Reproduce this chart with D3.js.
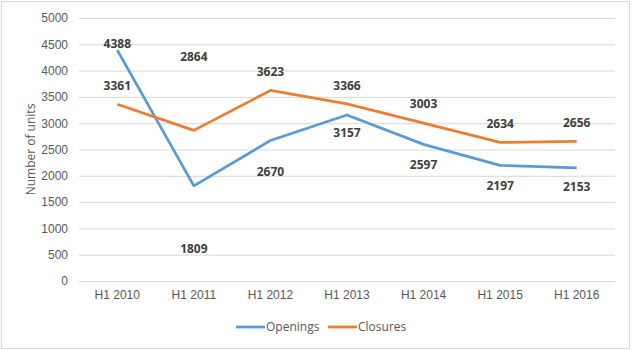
<!DOCTYPE html>
<html>
<head>
<meta charset="utf-8">
<script src="https://cdn.jsdelivr.net/npm/d3@7"></script>
<style>
  body { margin: 0; background: #fff; }
  svg { font-family: "Open Sans", sans-serif; }
</style>
</head>
<body>
<div id="chart"></div>
<script>
const periods = ["H1 2010", "H1 2011", "H1 2012", "H1 2013", "H1 2014", "H1 2015", "H1 2016"];
const openings = [4388, 1809, 2670, 3157, 2597, 2197, 2153];
const closures = [3361, 2864, 3623, 3366, 3003, 2634, 2656];
const yTicks = [0, 500, 1000, 1500, 2000, 2500, 3000, 3500, 4000, 4500, 5000];

// label offsets (px from point), as placed in the original
const openingsDy = [-6, 63, 31, 18, 20, 20, 19];
const closuresDy = [-18, -74, -19, -18, -19, -19, -18];

const W = 632, H = 351;
const margin = {top: 18, right: 17, bottom: 70, left: 79};
const width = W - margin.left - margin.right,
      height = H - margin.top - margin.bottom;

const svg = d3.select("#chart").append("svg")
  .attr("width", W).attr("height", H);

svg.append("rect")
  .attr("x", 1.5).attr("y", 1.5)
  .attr("width", W - 4).attr("height", H - 4)
  .attr("fill", "#fff").attr("stroke", "#d9d9d9");

const g = svg.append("g")
  .attr("transform", `translate(${margin.left},${margin.top})`);

const x = d3.scaleBand().domain(periods).range([0, width]);
const y = d3.scaleLinear().domain([0, 5000]).range([height, 0]);

// gridlines
g.append("g").selectAll("line")
  .data(yTicks)
  .join("line")
  .attr("x1", 0).attr("x2", width)
  .attr("y1", d => y(d) + 0.5).attr("y2", d => y(d) + 0.5)
  .attr("stroke", "#d9d9d9");

// y axis labels
const yAxis = g.append("g")
  .attr("transform", "translate(-4,0)")
  .call(d3.axisLeft(y).tickValues(yTicks).tickFormat(d3.format("d")).tickSize(0).tickPadding(7));
yAxis.select(".domain").remove();
yAxis.selectAll("text").attr("fill", "#595959").style("font-size", "12px");

// x axis labels
const xAxis = g.append("g")
  .attr("transform", `translate(0,${height})`)
  .call(d3.axisBottom(x).tickSize(0).tickPadding(9));
xAxis.select(".domain").remove();
xAxis.selectAll("text").attr("fill", "#595959").style("font-size", "12px");

// y title
svg.append("text")
  .attr("transform", `translate(35,${margin.top + height / 2}) rotate(-90)`)
  .attr("text-anchor", "middle")
  .attr("fill", "#595959")
  .style("font-size", "12px")
  .text("Number of units");

const cx = d => x(d) + x.bandwidth() / 2;
const line = d3.line().x((d, i) => cx(periods[i])).y(d => y(d));

const series = [
  {name: "Openings", values: openings, dy: openingsDy, color: "#5b9bd5"},
  {name: "Closures", values: closures, dy: closuresDy, color: "#ed7d31"}
];

series.forEach(s => {
  g.append("path")
    .datum(s.values)
    .attr("fill", "none")
    .attr("stroke", s.color)
    .attr("stroke-width", 2.75)
    .attr("stroke-linejoin", "round")
    .attr("d", line);
});

series.forEach(s => {
  g.append("g").selectAll("text")
    .data(s.values)
    .join("text")
    .attr("x", (d, i) => cx(periods[i]))
    .attr("y", (d, i) => y(d) + s.dy[i])
    .attr("dy", "0.35em")
    .attr("text-anchor", "middle")
    .attr("fill", "#404040")
    .style("font-size", "12px")
    .style("font-weight", "bold")
    .text(d => d);
});

// legend
const legend = svg.append("g").attr("transform", "translate(236,327)");
const items = legend.selectAll("g")
  .data(series)
  .join("g")
  .attr("transform", (d, i) => `translate(${i * 92},0)`);
items.append("line")
  .attr("x1", 0).attr("x2", 29)
  .attr("stroke", d => d.color)
  .attr("stroke-width", 2.75);
items.append("text")
  .attr("x", 30)
  .attr("dy", "0.35em")
  .attr("fill", "#595959")
  .style("font-size", "12px")
  .text(d => d.name);
</script>
</body>
</html>
